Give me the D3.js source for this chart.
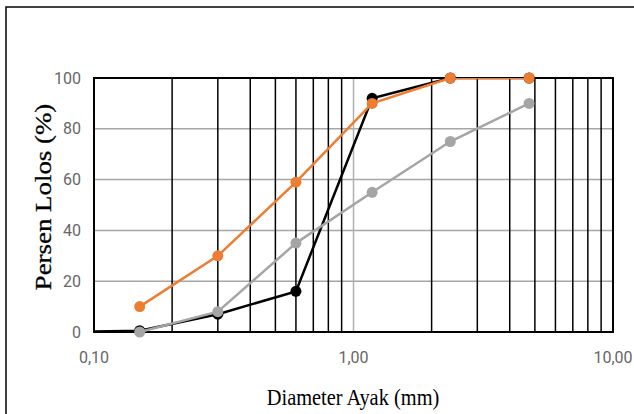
<!DOCTYPE html>
<html>
<head>
<meta charset="utf-8">
<script src="https://cdn.jsdelivr.net/npm/d3@7"></script>
<style>
  body { margin: 0; background: #fff; }
  svg { display: block; }
</style>
</head>
<body>
<svg width="634" height="414"></svg>
<script>
// Data
var sieves = [0.075, 0.15, 0.3, 0.6, 1.18, 2.36, 4.75];
var seriesBlack = [0, 0.5, 7, 16, 92, 100, 100];
var seriesOrange = [null, 10, 30, 59, 90, 100, 100];
var seriesGray = [null, 0, 8, 35, 55, 75, 90];
var yTicks = [0, 20, 40, 60, 80, 100];
var xTicks = [0.1, 1, 10];
var xTickLabels = ["0,10", "1,00", "10,00"];

var svg = d3.select("svg"),
	width = +svg.attr("width"),
	height = +svg.attr("height");

var margin = {left: 94, right: 21, top: 78, bottom: 82};

var x = d3.scaleLog()
	.domain([0.1, 10])
	.range([margin.left, width - margin.right]);

var y = d3.scaleLinear()
	.domain([0, 100])
	.range([height - margin.bottom, margin.top]);

// outer frame (left + top only visible)
svg.append("path")
	.attr("d", "M6,414 L6,7 L634,7")
	.attr("fill", "none")
	.attr("stroke", "#000")
	.attr("stroke-width", 1.5);

svg.append("clipPath").attr("id", "plot")
	.append("rect")
	.attr("x", x.range()[0]).attr("y", y.range()[1])
	.attr("width", x.range()[1] - x.range()[0])
	.attr("height", y.range()[0] - y.range()[1]);

// horizontal grid
svg.append("g")
	.selectAll("line")
	.data(yTicks.slice(1, -1))
	.enter()
	.append("line")
	.attr("x1", x.range()[0]).attr("x2", x.range()[1])
	.attr("y1", d => y(d)).attr("y2", d => y(d))
	.attr("stroke", "#a6a6a6")
	.attr("stroke-width", 1.5);

// vertical grid (minor black, major gray)
var minors = x.ticks().filter(d => d > 0.1 && d < 10);
svg.append("g")
	.selectAll("line")
	.data(minors)
	.enter()
	.append("line")
	.attr("x1", d => x(d)).attr("x2", d => x(d))
	.attr("y1", y.range()[0]).attr("y2", y.range()[1])
	.attr("stroke", d => Math.abs(d - 1) < 1e-9 ? "#b0b0b0" : "#000")
	.attr("stroke-width", 1.5);

// plot border
svg.append("rect")
	.attr("x", x.range()[0]).attr("y", y.range()[1])
	.attr("width", x.range()[1] - x.range()[0])
	.attr("height", y.range()[0] - y.range()[1])
	.attr("fill", "none")
	.attr("stroke", "#000")
	.attr("stroke-width", 2);

// series (drawn in this order: black, orange, gray on top)
var series = [
	{values: seriesBlack, color: "#000000"},
	{values: seriesOrange, color: "#ed7d31"},
	{values: seriesGray, color: "#a5a5a5"}
];

var line = d3.line()
	.defined(d => d[1] != null)
	.x(d => x(d[0]))
	.y(d => y(d[1]));

series.forEach(function(s) {
	var pts = sieves.map((v, i) => [v, s.values[i]]);
	var gs = svg.append("g");
	gs.append("path")
		.datum(pts)
		.attr("clip-path", "url(#plot)")
		.attr("d", line)
		.attr("fill", "none")
		.attr("stroke", s.color)
		.attr("stroke-width", 2.5);
	gs.selectAll("circle")
		.data(pts.filter(d => d[1] != null && d[0] >= 0.1))
		.enter()
		.append("circle")
		.attr("cx", d => x(d[0]))
		.attr("cy", d => y(d[1]))
		.attr("r", 5.5)
		.attr("fill", s.color);
});

// tick labels
svg.append("g")
	.selectAll("text")
	.data(yTicks)
	.enter()
	.append("text")
	.attr("x", 81)
	.attr("y", d => y(d))
	.attr("dy", "0.35em")
	.attr("text-anchor", "end")
	.attr("font-family", "Roboto, sans-serif")
	.attr("font-size", 16)
	.attr("fill", "#666")
	.text(d => d);

svg.append("g")
	.selectAll("text")
	.data(xTicks)
	.enter()
	.append("text")
	.attr("x", d => x(d))
	.attr("y", 357)
	.attr("dy", "0.35em")
	.attr("text-anchor", "middle")
	.attr("font-family", "Roboto, sans-serif")
	.attr("font-size", 16)
	.attr("fill", "#666")
	.text((d, i) => xTickLabels[i]);

// axis titles
svg.append("text")
	.attr("transform", "translate(353,397) scale(0.85,1)")
	.attr("dy", "0.35em")
	.attr("text-anchor", "middle")
	.attr("font-family", "Liberation Serif, serif")
	.attr("font-size", 24)
	.attr("fill", "#000")
	.text("Diameter Ayak (mm)");

svg.append("text")
	.attr("transform", "translate(43,197) rotate(-90) scale(1.12,1)")
	.attr("dy", "0.35em")
	.attr("text-anchor", "middle")
	.attr("font-family", "Liberation Serif, serif")
	.attr("font-size", 24)
	.attr("stroke", "#000")
	.attr("stroke-width", 0.3)
	.attr("fill", "#000")
	.text("Persen Lolos (%)");
</script>
</body>
</html>
